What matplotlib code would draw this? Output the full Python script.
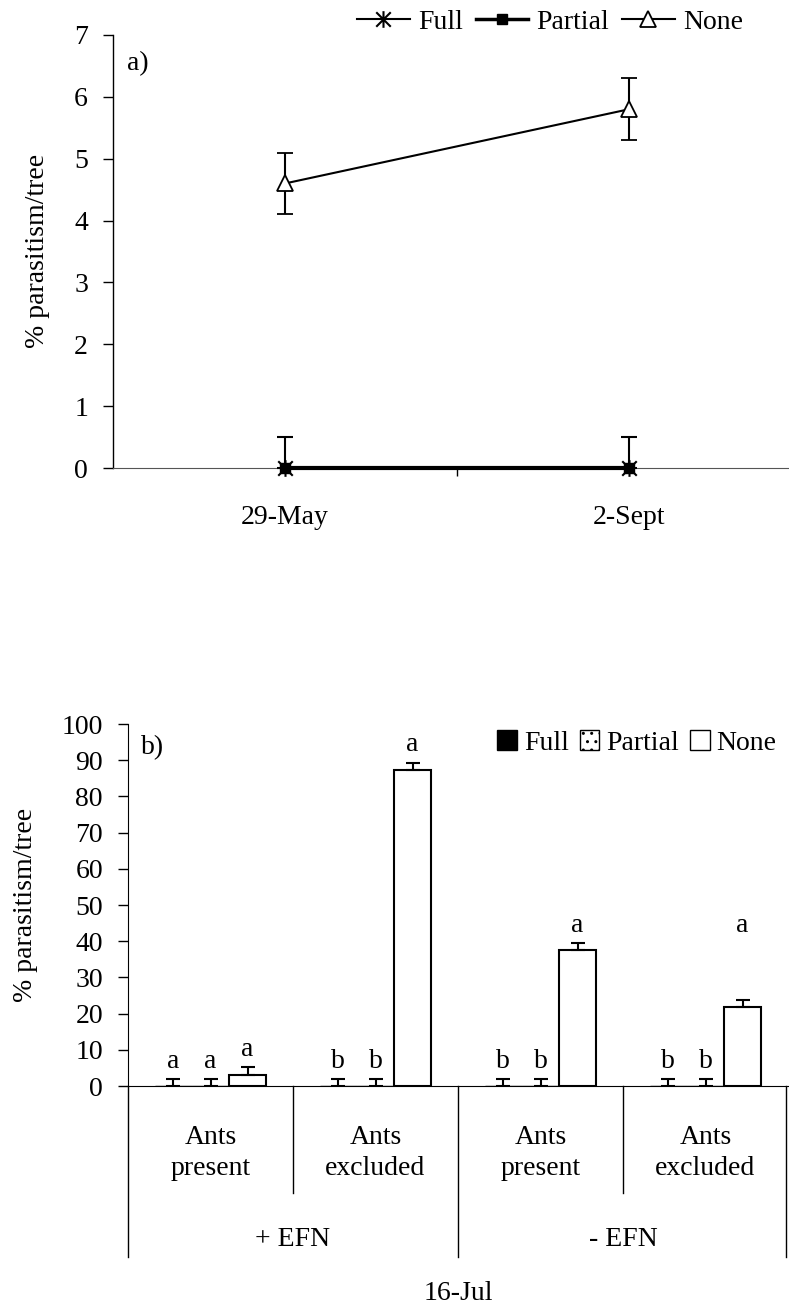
import matplotlib
matplotlib.use("Agg")
import matplotlib.pyplot as plt
from matplotlib.path import Path
from matplotlib.patches import Patch
from matplotlib.lines import Line2D
import numpy as np

plt.rcParams['font.family'] = 'Liberation Serif'
plt.rcParams['font.size'] = 20

# panel a) data
dates = ['29-May', '2-Sept']
full_a = [0, 0]
full_a_err = [0.5, 0.5]
partial_a = [0, 0]
none_a = [4.6, 5.8]
none_a_err = [0.5, 0.5]

# panel b) data (16-Jul)
ant_groups = ['Ants\npresent', 'Ants\nexcluded', 'Ants\npresent', 'Ants\nexcluded']
efn_groups = ['+ EFN', '- EFN']
full_b = [0, 0, 0, 0]
full_b_err = [2, 2, 2, 2]
partial_b = [0, 0, 0, 0]
partial_b_err = [2, 2, 2, 2]
none_b = [3.0, 87.3, 37.5, 21.7]
none_b_err = [2.3, 2.0, 2.0, 2.1]
full_letters = ['a', 'b', 'b', 'b']
partial_letters = ['a', 'b', 'b', 'b']
none_letters = ['a', 'a', 'a', 'a']

W, H = 789, 1306
fig = plt.figure(figsize=(W / 100, H / 100), dpi=100)

# asterisk marker like excel's "*"
star = Path([(-1, -1), (1, 1), (-1, 1), (1, -1), (0, -1.15), (0, 1.15)],
            [Path.MOVETO, Path.LINETO, Path.MOVETO, Path.LINETO, Path.MOVETO, Path.LINETO])

# ---------------- panel a ----------------
ax1 = fig.add_axes([113 / W, 1 - 468 / H, 1 - 113 / W, 433 / H])
x = np.arange(len(dates))
ax1.errorbar(x, none_a, yerr=none_a_err, color='black', lw=1.5, marker='^', ms=11,
             mfc='white', mec='black', mew=1.3, capsize=6, elinewidth=1.5, capthick=1.5,
             clip_on=False, zorder=3)
ax1.plot(x, partial_a, color='black', lw=3, marker='s', ms=7, clip_on=False, zorder=4)
ax1.errorbar(x, full_a, yerr=[[0, 0], full_a_err], color='black', lw=1.5, marker=star, ms=12,
             mew=1.5, capsize=6, elinewidth=1.5, capthick=1.5, clip_on=False, zorder=5)
ax1.set_xlim(-0.5, 1.465)
ax1.set_ylim(0, 7)
ax1.set_yticks(range(8))
ax1.set_xticks(x)
ax1.set_xticklabels(dates)
ax1.set_xticks([0.5], minor=True)
ax1.tick_params(axis='x', which='major', length=0, pad=27)
ax1.tick_params(axis='x', which='minor', length=6, width=1, direction='out')
ax1.tick_params(axis='y', length=7, width=1, pad=11)
for s in ['top', 'right']:
    ax1.spines[s].set_visible(False)
ax1.spines['bottom'].set_color('#555555')
ax1.spines['left'].set_linewidth(1)
ax1.text(0.02, 0.935, 'a)', transform=ax1.transAxes, ha='left', va='center')

leg_a = [Line2D([], [], color='black', lw=1.5, marker=star, ms=12, mew=1.5),
         Line2D([], [], color='black', lw=2.5, marker='s', ms=7),
         Line2D([], [], color='black', lw=1.5, marker='^', ms=11, mfc='white', mew=1.3)]
fig.legend(leg_a, ['Full', 'Partial', 'None'], loc='center',
           bbox_to_anchor=(550 / W, 1 - 22 / H), ncol=3, frameon=False, fontsize=20,
           handlelength=1.9, handletextpad=0.3, columnspacing=0.45, borderpad=0)

fig.text(38 / W, 1 - 251 / H, '% parasitism/tree', rotation=90, ha='center', va='center')

# ---------------- panel b ----------------
ax2 = fig.add_axes([128 / W, 1 - 1086 / H, 660 / W, 362 / H])
xb = np.arange(len(ant_groups))
bw = 0.225
ax2.bar(xb - bw, full_b, bw, color='black', edgecolor='black', yerr=[[0] * 4, full_b_err],
        error_kw=dict(capsize=5, elinewidth=1.5, capthick=1.5))
ax2.bar(xb, partial_b, bw, color='white', edgecolor='black', hatch='..', yerr=[[0] * 4, partial_b_err],
        error_kw=dict(capsize=5, elinewidth=1.5, capthick=1.5))
ax2.bar(xb + bw, none_b, bw, color='white', edgecolor='black', lw=1.5, yerr=[[0] * 4, none_b_err],
        error_kw=dict(capsize=5, elinewidth=1.5, capthick=1.5))

for i in range(len(xb)):
    ax2.text(xb[i] - bw, full_b[i] + full_b_err[i] + 4.9, full_letters[i], ha='center', va='center')
    ax2.text(xb[i], partial_b[i] + partial_b_err[i] + 4.9, partial_letters[i], ha='center', va='center')
    top = none_b[i] + none_b_err[i] + 4.9
    if i == 3:
        top = none_b[2] + none_b_err[2] + 4.9
    ax2.text(xb[i] + bw, top, none_letters[i], ha='center', va='center')

ax2.set_xlim(-0.5, 3.5)
ax2.set_ylim(0, 100)
ax2.set_yticks(range(0, 101, 10))
ax2.set_xticks([])
ax2.tick_params(axis='y', length=7, width=1, pad=11)
for s in ['top', 'right']:
    ax2.spines[s].set_visible(False)
ax2.text(0.02, 0.935, 'b)', transform=ax2.transAxes, ha='left', va='center')

# multi-level category axis
tr = ax2.get_xaxis_transform()
def fy(px):
    return (1086 - px) / 362
for xv in [0.5, 2.5]:
    ax2.plot([xv, xv], [0, fy(1193)], transform=tr, color='black', lw=1, clip_on=False)
for xv in [-0.5, 1.5, 3.49]:
    ax2.plot([xv, xv], [0, fy(1257)], transform=tr, color='black', lw=1, clip_on=False)
for i, g in enumerate(ant_groups):
    ax2.text(xb[i], fy(1153), g, transform=tr, ha='center', va='center', linespacing=1.3)
for j, e in enumerate(efn_groups):
    ax2.text(0.5 + 2 * j, fy(1240), e, transform=tr, ha='center', va='center')
ax2.text(1.5, fy(1293), '16-Jul', transform=tr, ha='center', va='center')

fig.text(25 / W, 1 - 905 / H, '% parasitism/tree', rotation=90, ha='center', va='center')

handles = [Patch(facecolor='black', edgecolor='black'),
           Patch(facecolor='white', edgecolor='black', hatch='..'),
           Patch(facecolor='white', edgecolor='black')]
fig.legend(handles, ['Full', 'Partial', 'None'], loc='center', bbox_to_anchor=(637 / W, 1 - 743 / H),
           ncol=3, frameon=False, fontsize=20, handlelength=0.7, handleheight=0.7,
           handletextpad=0.25, columnspacing=0.4, borderpad=0)

fig.savefig('out.png', dpi=100)
